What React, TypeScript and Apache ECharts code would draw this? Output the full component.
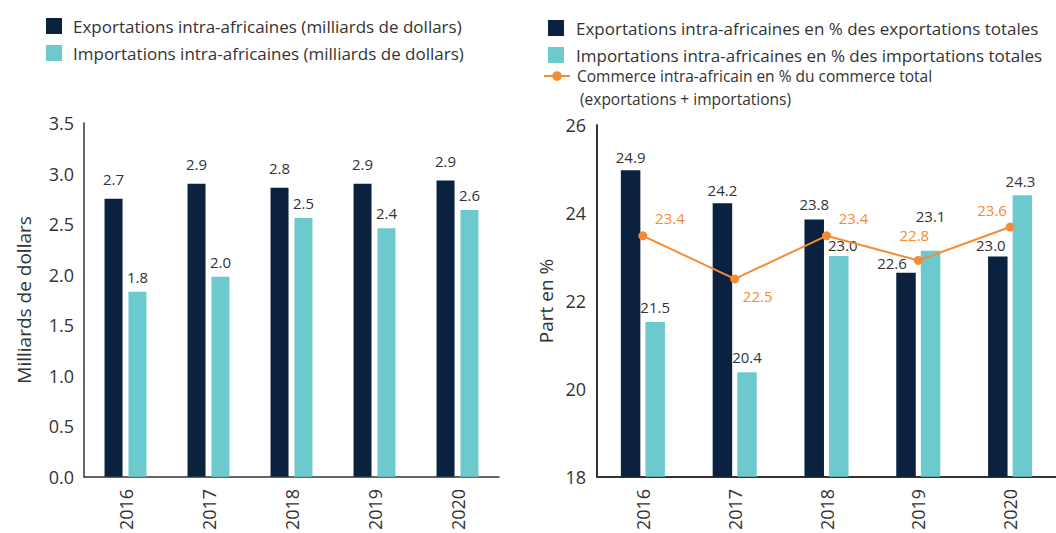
import React, { useEffect, useRef } from "react";
import * as echarts from "echarts";

// ---- Data ----
const years = ["2016", "2017", "2018", "2019", "2020"];

// Left chart: billions of dollars
const exportsBn = [2.75, 2.9, 2.86, 2.9, 2.93];
const importsBn = [1.83, 1.98, 2.56, 2.46, 2.64];
const exportsBnLabels = ["2.7", "2.9", "2.8", "2.9", "2.9"];
const importsBnLabels = ["1.8", "2.0", "2.5", "2.4", "2.6"];

// Right chart: shares in %
const exportsPct = [24.97, 24.22, 23.85, 22.64, 23.01];
const importsPct = [21.52, 20.38, 23.02, 23.14, 24.4];
const tradePct = [23.48, 22.5, 23.48, 22.92, 23.68];
const exportsPctLabels = ["24.9", "24.2", "23.8", "22.6", "23.0"];
const importsPctLabels = ["21.5", "20.4", "23.0", "23.1", "24.3"];
const tradePctLabels = ["23.4", "22.5", "23.4", "22.8", "23.6"];

const leftTicks = { min: 0, max: 3.5, interval: 0.5 };
const rightTicks = { min: 18, max: 26, interval: 2 };

const NAME_EXP_BN = "Exportations intra-africaines (milliards de dollars)";
const NAME_IMP_BN = "Importations intra-africaines (milliards de dollars)";
const NAME_EXP_PCT = "Exportations intra-africaines en % des exportations totales";
const NAME_IMP_PCT = "Importations intra-africaines en % des importations totales";
const NAME_TRADE = "Commerce intra-africain en % du commerce total";
const NAME_TRADE_2 = "(exportations + importations)";

// ---- Styles / label placement (not data) ----
const NAVY = "#0b2140";
const TEAL = "#6ccacf";
const ORANGE = "#f58b35";
const TEXT = "#333333";
const FONT = "Open Sans";

const expPctOffsets = [[0, 0], [0, 0], [0, -3], [-14, 3], [-7, 2]];
const impPctOffsets = [[0, -2], [0, -2], [4, 2], [0, -22], [-2, -1]];
const tradeOffsets = [[27, 0], [23, 0], [27, 0], [-4, -8], [-18, 0]];
const tradePositions = ["top", "bottom", "top", "top", "top"];

export default function App() {
  const ref = useRef<HTMLDivElement>(null);

  useEffect(() => {
    document.body.style.margin = "0";
    if (!ref.current) return;
    const chart = echarts.init(ref.current, undefined, { renderer: "svg" });

    const labelBase = { show: true, position: "top", color: TEXT, fontSize: 15, lineHeight: 16, fontFamily: FONT };
    const legendText = { fontSize: 17, lineHeight: 18, color: TEXT, fontFamily: FONT };

    const option: any = {
      animation: false,
      textStyle: { fontFamily: FONT, color: TEXT },
      legend: [
        {
          orient: "vertical",
          left: 46,
          top: 17,
          itemWidth: 16,
          itemHeight: 16,
          itemGap: 9,
          icon: "rect",
          padding: 0,
          data: [NAME_EXP_BN, NAME_IMP_BN],
          textStyle: { ...legendText, padding: [0, 0, 0, 6] },
        },
        {
          orient: "vertical",
          left: 548,
          top: 19,
          itemWidth: 16,
          itemHeight: 16,
          itemGap: 9,
          icon: "rect",
          padding: 0,
          data: [NAME_EXP_PCT, NAME_IMP_PCT],
          textStyle: { ...legendText, padding: [0, 0, 0, 7] },
        },
        {
          orient: "vertical",
          left: 543,
          top: 68,
          itemWidth: 26,
          itemHeight: 12,
          padding: 0,
          data: [NAME_TRADE],
          textStyle: { ...legendText, fontSize: 15.5, lineHeight: 16, padding: [0, 0, 0, 2] },
        },
      ],
      graphic: [
        {
          type: "text",
          left: 580,
          top: 91,
          style: { text: NAME_TRADE_2, fontSize: 15.5, lineHeight: 16, fill: TEXT, fontFamily: FONT },
        },
      ],
      grid: [
        { left: 84, top: 123, width: 415, height: 354 },
        { left: 597, top: 125, width: 469, height: 352 },
      ],
      xAxis: [
        {
          type: "category",
          gridIndex: 0,
          data: years,
          axisLine: { lineStyle: { color: "#333", width: 1.5 } },
          axisTick: { show: false },
          axisLabel: { rotate: 90, margin: 12, fontSize: 18, color: TEXT, fontFamily: FONT },
        },
        {
          type: "category",
          gridIndex: 1,
          data: years,
          axisLine: { lineStyle: { color: "#333", width: 2 } },
          axisTick: { show: false },
          axisLabel: { rotate: 90, margin: 12, fontSize: 18, color: TEXT, fontFamily: FONT },
        },
      ],
      yAxis: [
        {
          type: "value",
          gridIndex: 0,
          min: leftTicks.min,
          max: leftTicks.max,
          interval: leftTicks.interval,
          name: "Milliards de dollars",
          nameLocation: "middle",
          nameGap: 51,
          nameTextStyle: { fontSize: 19, color: TEXT, fontFamily: FONT },
          axisLine: { show: true, lineStyle: { color: "#333", width: 1.5 } },
          axisTick: { show: false },
          splitLine: { show: false },
          axisLabel: {
            margin: 10,
            fontSize: 18,
            color: TEXT,
            fontFamily: FONT,
            formatter: (v: number) => v.toFixed(1),
          },
        },
        {
          type: "value",
          gridIndex: 1,
          min: rightTicks.min,
          max: rightTicks.max,
          interval: rightTicks.interval,
          name: "Part en %",
          nameLocation: "middle",
          nameGap: 42,
          nameTextStyle: { fontSize: 19, color: TEXT, fontFamily: FONT },
          axisLine: { show: true, lineStyle: { color: "#333", width: 2 } },
          axisTick: { show: false },
          splitLine: { show: false },
          axisLabel: { margin: 11, fontSize: 18, color: TEXT, fontFamily: FONT },
        },
      ],
      series: [
        {
          name: NAME_EXP_BN,
          type: "bar",
          xAxisIndex: 0,
          yAxisIndex: 0,
          barWidth: 18,
          barGap: "33%",
          itemStyle: { color: NAVY },
          data: exportsBn.map((v, i) => ({
            value: v,
            label: { ...labelBase, distance: 12, formatter: exportsBnLabels[i] },
          })),
        },
        {
          name: NAME_IMP_BN,
          type: "bar",
          xAxisIndex: 0,
          yAxisIndex: 0,
          barWidth: 18,
          barGap: "33%",
          itemStyle: { color: TEAL },
          data: importsBn.map((v, i) => ({
            value: v,
            label: { ...labelBase, distance: 7, formatter: importsBnLabels[i] },
          })),
        },
        {
          name: NAME_EXP_PCT,
          type: "bar",
          xAxisIndex: 1,
          yAxisIndex: 1,
          barWidth: 19.5,
          barGap: "26%",
          itemStyle: { color: NAVY },
          data: exportsPct.map((v, i) => ({
            value: v,
            label: { ...labelBase, distance: 5, offset: expPctOffsets[i], formatter: exportsPctLabels[i] },
          })),
        },
        {
          name: NAME_IMP_PCT,
          type: "bar",
          xAxisIndex: 1,
          yAxisIndex: 1,
          barWidth: 19.5,
          barGap: "26%",
          itemStyle: { color: TEAL },
          data: importsPct.map((v, i) => ({
            value: v,
            label: { ...labelBase, distance: 5, offset: impPctOffsets[i], formatter: importsPctLabels[i] },
          })),
        },
        {
          name: NAME_TRADE,
          type: "line",
          xAxisIndex: 1,
          yAxisIndex: 1,
          symbol: "circle",
          symbolSize: 9,
          z: 5,
          lineStyle: { color: ORANGE, width: 2 },
          itemStyle: { color: ORANGE },
          data: tradePct.map((v, i) => ({
            value: v,
            label: {
              show: true,
              position: tradePositions[i],
              distance: 5,
              offset: tradeOffsets[i],
              color: ORANGE,
              fontSize: 15,
              lineHeight: 16,
              fontFamily: FONT,
              formatter: tradePctLabels[i],
            },
          })),
        },
      ],
    };

    chart.setOption(option);
    return () => chart.dispose();
  }, []);

  return <div ref={ref} style={{ width: 1056, height: 533 }} />;
}
